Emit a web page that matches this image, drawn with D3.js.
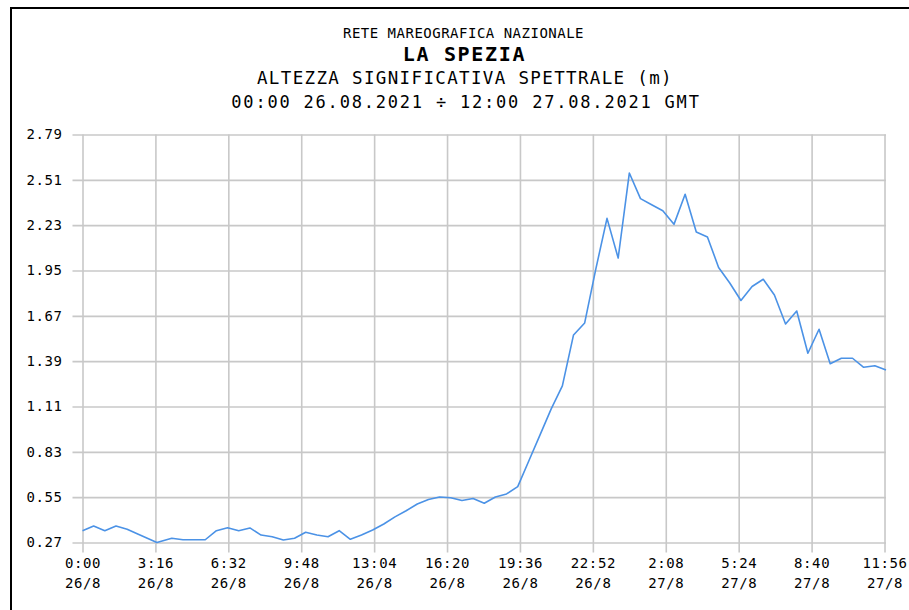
<!DOCTYPE html>
<html>
<head>
<meta charset="utf-8">
<script src="https://cdn.jsdelivr.net/npm/d3@7"></script>
<style>
  html, body { margin: 0; padding: 0; background: #fff; }
  svg { display: block; }
  text { font-family: "DejaVu Sans Mono", monospace; fill: #000; }
</style>
</head>
<body>
<svg id="chart" width="909" height="610"></svg>
<script>
// Significant spectral wave height, La Spezia station
// Sample times in minutes from 00:00 26.08.2021 GMT
const sampleMinutes = [
  0, 30, 60, 90, 120, 150, 200, 240, 270, 300, 330, 360, 390, 420, 450, 480,
  510, 540, 570, 600, 630, 660, 690, 720, 750, 780, 810, 840, 870, 900, 930,
  960, 990, 1020, 1050, 1080, 1110, 1140, 1170, 1200, 1230, 1260, 1290, 1320,
  1350, 1380, 1410, 1440, 1470, 1500, 1530, 1560, 1590, 1620, 1650, 1680, 1710,
  1740, 1770, 1800, 1830, 1860, 1890, 1920, 1950, 1980, 2010, 2040, 2070, 2100,
  2130, 2160
];
// Wave height (m)
const waveHeight = [
  0.343, 0.372, 0.343, 0.372, 0.352, 0.321, 0.270, 0.296, 0.287, 0.287, 0.287,
  0.343, 0.361, 0.343, 0.360, 0.316, 0.306, 0.285, 0.296, 0.333, 0.316, 0.306,
  0.343, 0.290, 0.316, 0.347, 0.384, 0.428, 0.466, 0.508, 0.536, 0.551, 0.546,
  0.529, 0.542, 0.512, 0.551, 0.570, 0.615, 0.775, 0.935, 1.095, 1.237, 1.552,
  1.626, 1.960, 2.272, 2.027, 2.552, 2.394, 2.356, 2.319, 2.235, 2.421, 2.188,
  2.157, 1.969, 1.873, 1.765, 1.851, 1.896, 1.799, 1.620, 1.700, 1.439, 1.587,
  1.374, 1.408, 1.408, 1.352, 1.362, 1.335
];

// Axis ticks
const xTickMinutes = [0, 196, 392, 588, 784, 980, 1176, 1372, 1568, 1764, 1960, 2156];
const xTickTimes = ["0:00", "3:16", "6:32", "9:48", "13:04", "16:20", "19:36", "22:52", "2:08", "5:24", "8:40", "11:56"];
const xTickDays = ["26/8", "26/8", "26/8", "26/8", "26/8", "26/8", "26/8", "26/8", "27/8", "27/8", "27/8", "27/8"];
const yTicks = [0.27, 0.55, 0.83, 1.11, 1.39, 1.67, 1.95, 2.23, 2.51, 2.79];

const titleLines = [
  "RETE MAREOGRAFICA NAZIONALE",
  "LA SPEZIA",
  "ALTEZZA SIGNIFICATIVA SPETTRALE (m)",
  "00:00 26.08.2021 ÷ 12:00 27.08.2021 GMT"
];

const svg = d3.select("#chart");

// Plot geometry
const plotLeft = 82.5, plotRight = 886, plotTop = 134.5, plotBottom = 542.5, tickLen = 10;

const x = d3.scaleLinear().domain([0, 2160]).range([plotLeft, plotRight]);
const y = d3.scaleLinear().domain([0.27, 2.79]).range([plotBottom, plotTop]);

// Frame lines (top and left)
svg.append("line").attr("x1", 10).attr("x2", 909).attr("y1", 8).attr("y2", 8)
  .attr("stroke", "#000").attr("stroke-width", 2);
svg.append("line").attr("x1", 11).attr("x2", 11).attr("y1", 7).attr("y2", 610)
  .attr("stroke", "#000").attr("stroke-width", 2);

// Titles
const title = svg.append("g").attr("text-anchor", "middle");
title.append("text").attr("x", 463.5).attr("y", 38.3)
  .attr("font-size", 14).attr("letter-spacing", 0.5).text(titleLines[0]);
title.append("text").attr("x", 464.5).attr("y", 60.7)
  .attr("font-size", 20).attr("font-weight", "bold").attr("letter-spacing", 1.7).text(titleLines[1]);
title.append("text").attr("x", 465).attr("y", 84)
  .attr("font-size", 17.5).attr("letter-spacing", 1.35).text(titleLines[2]);
title.append("text").attr("x", 466).attr("y", 108.3)
  .attr("font-size", 17).attr("letter-spacing", 1.8).text(titleLines[3]);

const gridColor = "#c8c8c8";

// Y axis with full-width grid lines
const yAxis = d3.axisLeft(y)
  .tickValues(yTicks)
  .tickFormat(d3.format(".2f"))
  .tickSize(-(plotRight - (plotLeft - tickLen)))
  .tickPadding(10);

svg.append("g")
  .attr("transform", `translate(${plotLeft - tickLen},0)`)
  .call(yAxis)
  .call(g => g.select(".domain").remove())
  .call(g => g.selectAll(".tick line").attr("stroke", gridColor).attr("stroke-width", 1.6))
  .call(g => g.selectAll(".tick text")
    .attr("font-family", "DejaVu Sans Mono, monospace")
    .attr("font-size", 14).attr("letter-spacing", 0.6).attr("fill", "#000"));

// X axis with full-height grid lines and two-line labels
const xAxis = d3.axisBottom(x)
  .tickValues(xTickMinutes)
  .tickFormat((d, i) => i)
  .tickSize(plotBottom + tickLen - plotTop)
  .tickPadding(0);

svg.append("g")
  .attr("transform", `translate(0,${plotTop})`)
  .call(xAxis)
  .call(g => g.select(".domain").remove())
  .call(g => g.selectAll(".tick line").attr("stroke", gridColor).attr("stroke-width", 1.6))
  .call(g => g.selectAll(".tick text").each(function () {
    const t = d3.select(this);
    const i = +t.text();
    t.text(null)
      .attr("y", null).attr("dy", null)
      .attr("font-family", "DejaVu Sans Mono, monospace")
      .attr("font-size", 14).attr("letter-spacing", 0.6).attr("fill", "#000");
    t.append("tspan").attr("x", 0).attr("y", 568 - plotTop).text(xTickTimes[i]);
    t.append("tspan").attr("x", 0).attr("y", 588 - plotTop).text(xTickDays[i]);
  }));

// Wave height line
const series = sampleMinutes.map((m, i) => ({ m, v: waveHeight[i] }));
svg.append("path")
  .datum(series)
  .attr("fill", "none")
  .attr("stroke", "#4b92e6")
  .attr("stroke-width", 1.6)
  .attr("stroke-linejoin", "round")
  .attr("d", d3.line().x(d => x(d.m)).y(d => y(d.v)));
</script>
</body>
</html>
